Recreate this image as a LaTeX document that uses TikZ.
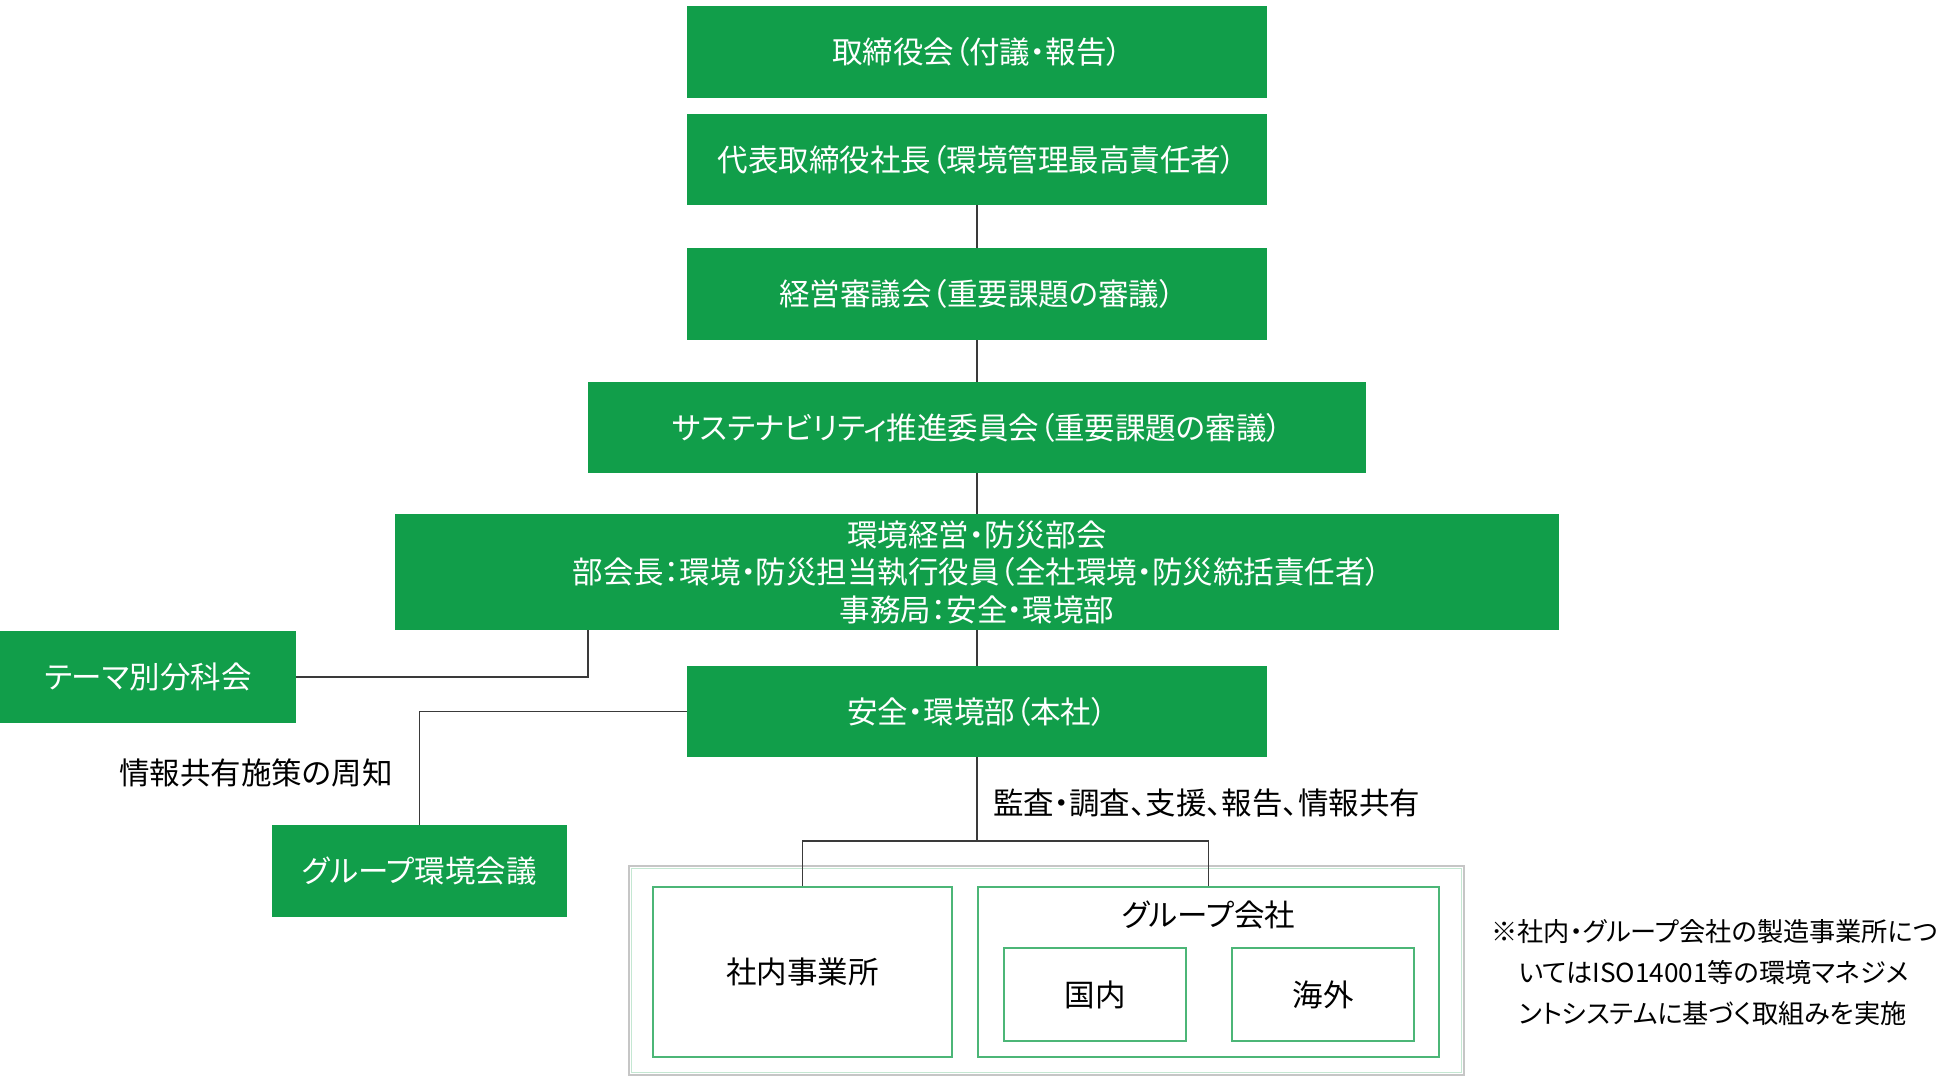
\documentclass[tikz,border=0pt]{standalone}
\usepackage{fontspec}
\setmainfont{Noto Sans CJK JP}[RawFeature=+palt]
\usepackage{tikz}
\definecolor{kgreen}{HTML}{119E4A}
\definecolor{kline}{HTML}{3A3A3A}

\begin{document}
\begin{tikzpicture}[x=1pt,y=-1pt,
  gbox/.style={fill=kgreen,text=white,inner sep=0pt,align=center,font=\fontsize{30.5}{37.5}\selectfont},
  wbox/.style={draw=kgreen!75,line width=2pt,inner sep=0pt,font=\fontsize{30.5}{37.5}\selectfont},
  conn/.style={draw=kline,line width=1.5pt},
  lbl/.style={inner sep=0pt,font=\fontsize{30.5}{37.5}\selectfont}]
\useasboundingbox (0,0) rectangle (1937,1084);
\node[gbox,minimum width=580pt,minimum height=92pt] (board) at (977,52) {取締役会（付議・報告）};
\node[gbox,minimum width=580pt,minimum height=91pt] (pres) at (977,159.5) {代表取締役社長（環境管理最高責任者）};
\node[gbox,minimum width=580pt,minimum height=92pt] (mgmt) at (977,294) {経営審議会（重要課題の審議）};
\node[gbox,minimum width=778pt,minimum height=91pt] (susta) at (977,427.5) {サステナビリティ推進委員会（重要課題の審議）};
\node[gbox,minimum width=1164pt,minimum height=116pt] (env) at (977,572) {環境経営・防災部会\\部会長：環境・防災担当執行役員（全社環境・防災統括責任者）\\事務局：安全・環境部};
\node[gbox,minimum width=296pt,minimum height=92pt] (theme) at (148,677) {テーマ別分科会};
\node[gbox,minimum width=580pt,minimum height=91pt] (safety) at (977,711.5) {安全・環境部（本社）};
\node[gbox,minimum width=295pt,minimum height=92pt] (gmeet) at (419.5,871) {グループ環境会議};
\node[draw=gray!45,line width=1.5pt,minimum width=835pt,minimum height=209pt] (outer) at (1046.5,970.5) {};
\draw[kgreen!25,line width=1pt] ([shift={(3pt,-3pt)}]outer.north west) rectangle ([shift={(-3pt,3pt)}]outer.south east);
\node[wbox,minimum width=299pt,minimum height=170pt] (office) at (802.5,972) {社内事業所};
\node[wbox,minimum width=461pt,minimum height=170pt] (groupco) at (1208.5,972) {};
\node[lbl] (grouplbl) at (1208.5,915) {グループ会社};
\node[wbox,minimum width=182pt,minimum height=93pt] (domestic) at (1095,994.5) {国内};
\node[wbox,minimum width=182pt,minimum height=93pt] (overseas) at (1323,994.5) {海外};
\draw[conn] (pres.south) -- (mgmt.north);
\draw[conn] (mgmt.south) -- (susta.north);
\draw[conn] (susta.south) -- (env.north);
\draw[conn] (env.south) -- (safety.north);
\draw[conn] (env.south -| susta.south west) |- (theme.east);
\draw[conn] (safety.west) -| (gmeet.north);
\coordinate (split) at (977,841);
\draw[conn] (safety.south) -- (split);
\draw[conn] (office.north) |- (split) -| (groupco.north);
\node[lbl,anchor=east] (share) at (393,773) {情報共有施策の周知};
\node[lbl,anchor=west] (audit) at (993,803) {監査・調査、支援、報告、情報共有};
\node[inner sep=0pt,anchor=north west,align=left,font=\fontsize{26.2}{41}\selectfont] (note) at (1491,919) {※社内・グループ会社の製造事業所につ\\\hspace*{1.05em}いてはISO14001等の環境マネジメ\\\hspace*{1.05em}ントシステムに基づく取組みを実施};
\end{tikzpicture}
\end{document}
